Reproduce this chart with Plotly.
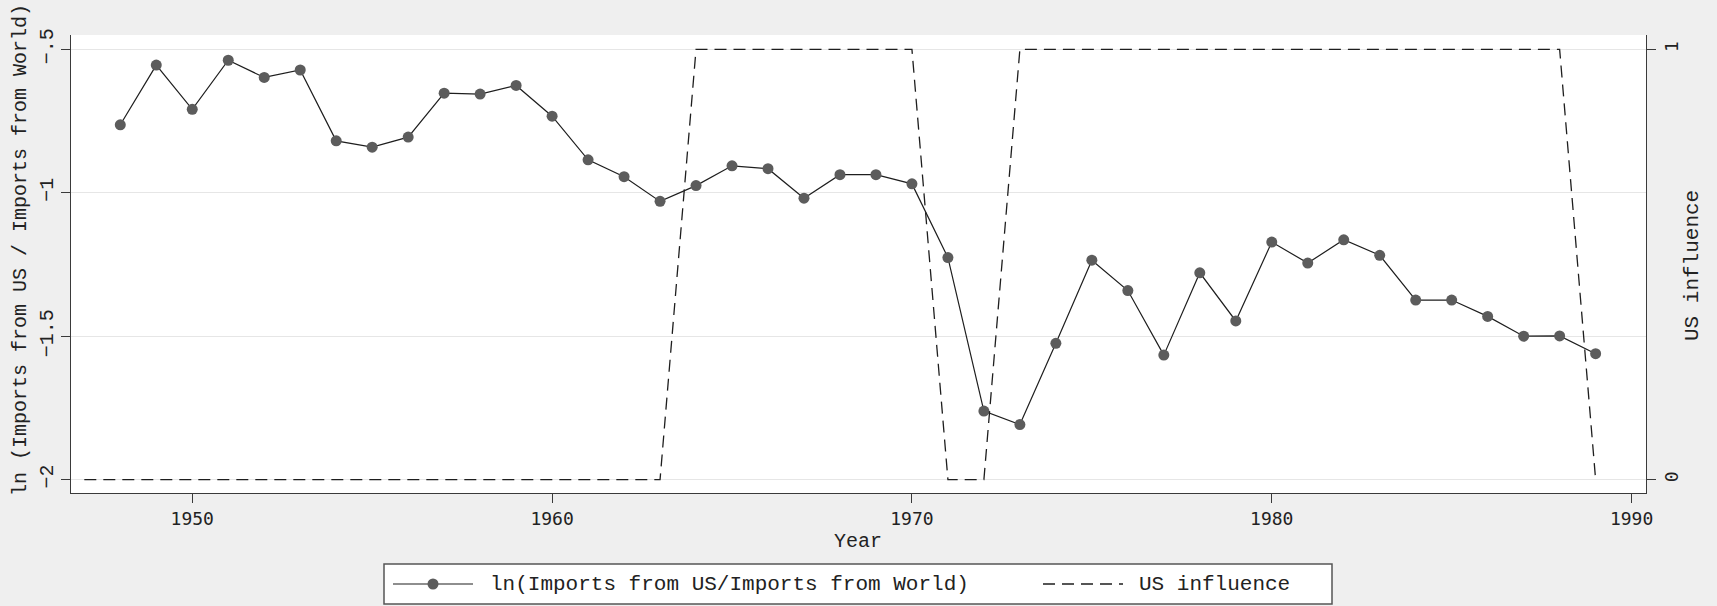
import plotly.graph_objects as go

# Annual series (the import share is not observed in 1947)
years = list(range(1947, 1990))
ln_import_share = [
    None,
    -0.763, -0.555, -0.709, -0.538, -0.598, -0.572, -0.819, -0.841, -0.806, -0.653,
    -0.656, -0.626, -0.733, -0.885, -0.944, -1.030, -0.975, -0.906, -0.916, -1.019,
    -0.937, -0.937, -0.969, -1.226, -1.761, -1.808, -1.525, -1.235, -1.341, -1.566,
    -1.279, -1.447, -1.172, -1.245, -1.164, -1.218, -1.374, -1.374, -1.431, -1.500,
    -1.499, -1.561,
]
us_influence = [
    0,
    0, 0, 0, 0, 0, 0, 0, 0, 0, 0,
    0, 0, 0, 0, 0, 0, 1, 1, 1, 1,
    1, 1, 1, 0, 0, 1, 1, 1, 1, 1,
    1, 1, 1, 1, 1, 1, 1, 1, 1, 1,
    1, 0,
]

x_ticks = [1950, 1960, 1970, 1980, 1990]
y_ticks = [-2, -1.5, -1, -0.5]
y_tick_text = ["−2", "−1.5", "−1", "−.5"]
y2_ticks = [0, 1]
y2_tick_text = ["0", "1"]

name_share = "ln(Imports from US/Imports from World)"
name_influence = "US influence"

W, H = 1717, 606
L, R, T, B = 71, 71, 35, 113
PW, PH = W - L - R, H - T - B

def px_x(p):
    return (p - L) / PW

def px_y(p):
    return (H - B - p) / PH

MONO = "Courier New, Courier, Nimbus Mono PS, FreeMono, Liberation Mono, monospace"
SANSMONO = "DejaVu Sans Mono"
TXT = "#222222"
AX = "#3a3a3a"

fig = go.Figure()
fig.add_trace(go.Scatter(
    x=years, y=ln_import_share, name=name_share, mode="lines+markers",
    line=dict(color="#1e1e1e", width=1.2),
    marker=dict(color="#5c5c5c", size=11, line=dict(width=0)),
    yaxis="y", showlegend=False,
))
fig.add_trace(go.Scatter(
    x=years, y=us_influence, name=name_influence, mode="lines",
    line=dict(color="#1e1e1e", width=1.3, dash="12px,7px"),
    yaxis="y2", showlegend=False,
))

fig.update_layout(
    width=W, height=H,
    margin=dict(l=L, r=R, t=T, b=B),
    paper_bgcolor="#efefef", plot_bgcolor="#ffffff",
    xaxis=dict(
        range=[1946.63, 1990.40], tickvals=x_ticks,
        showgrid=False, zeroline=False,
        showline=True, linecolor=AX, linewidth=1.3,
        ticks="outside", ticklen=9, tickcolor=AX, tickwidth=1.2,
        tickfont=dict(family=SANSMONO, size=18, color=TXT),
    ),
    yaxis=dict(
        range=[-2.0467, -0.45], tickvals=y_ticks, ticktext=y_tick_text,
        tickangle=-90,
        showgrid=True, gridcolor="#e6e6e6", gridwidth=1, zeroline=False,
        showline=True, linecolor=AX, linewidth=1.3,
        ticks="outside", ticklen=9, tickcolor=AX, tickwidth=1.2,
        tickfont=dict(family=MONO, size=20, color=TXT),
    ),
    yaxis2=dict(
        range=[-0.0311, 1.0333], tickvals=y2_ticks, ticktext=y2_tick_text,
        tickangle=-90, overlaying="y", side="right",
        showgrid=False, zeroline=False,
        showline=True, linecolor=AX, linewidth=1.3,
        ticks="outside", ticklen=9, tickcolor=AX, tickwidth=1.2,
        tickfont=dict(family=SANSMONO, size=18, color=TXT),
    ),
)

annotations = [
    dict(text="ln (Imports from US / Imports from World)", x=px_x(20), y=px_y(250),
         textangle=-90, font=dict(family=MONO, size=20, color=TXT)),
    dict(text=name_influence, x=px_x(1692), y=px_y(266),
         textangle=-90, font=dict(family=MONO, size=21, color=TXT)),
    dict(text="Year", x=px_x(858), y=px_y(541),
         font=dict(family=MONO, size=20, color=TXT)),
    dict(text=name_share, x=px_x(488), y=px_y(584), xanchor="left",
         font=dict(family=MONO, size=21, color=TXT)),
    dict(text=name_influence, x=px_x(1137), y=px_y(584), xanchor="left",
         font=dict(family=MONO, size=21, color=TXT)),
]
for a in annotations:
    a.setdefault("xanchor", "center")
    a.update(xref="paper", yref="paper", yanchor="middle", showarrow=False)
fig.update_layout(annotations=annotations)

# Legend box with its key symbols
shapes = [
    dict(type="rect", x0=px_x(384), x1=px_x(1332), y0=px_y(604), y1=px_y(564),
         fillcolor="#ffffff", line=dict(color="#555555", width=1.5)),
    dict(type="line", x0=px_x(393), x1=px_x(473), y0=px_y(584), y1=px_y(584),
         line=dict(color="#1e1e1e", width=1.2)),
    dict(type="circle", x0=px_x(427.5), x1=px_x(438.5), y0=px_y(589.5), y1=px_y(578.5),
         fillcolor="#5c5c5c", line=dict(width=0)),
    dict(type="line", x0=px_x(1043), x1=px_x(1123), y0=px_y(584), y1=px_y(584),
         line=dict(color="#1e1e1e", width=1.3, dash="12px,7px")),
]
for s in shapes:
    s.update(xref="paper", yref="paper", layer="above")
fig.update_layout(shapes=shapes)

fig.write_html("out.html")
